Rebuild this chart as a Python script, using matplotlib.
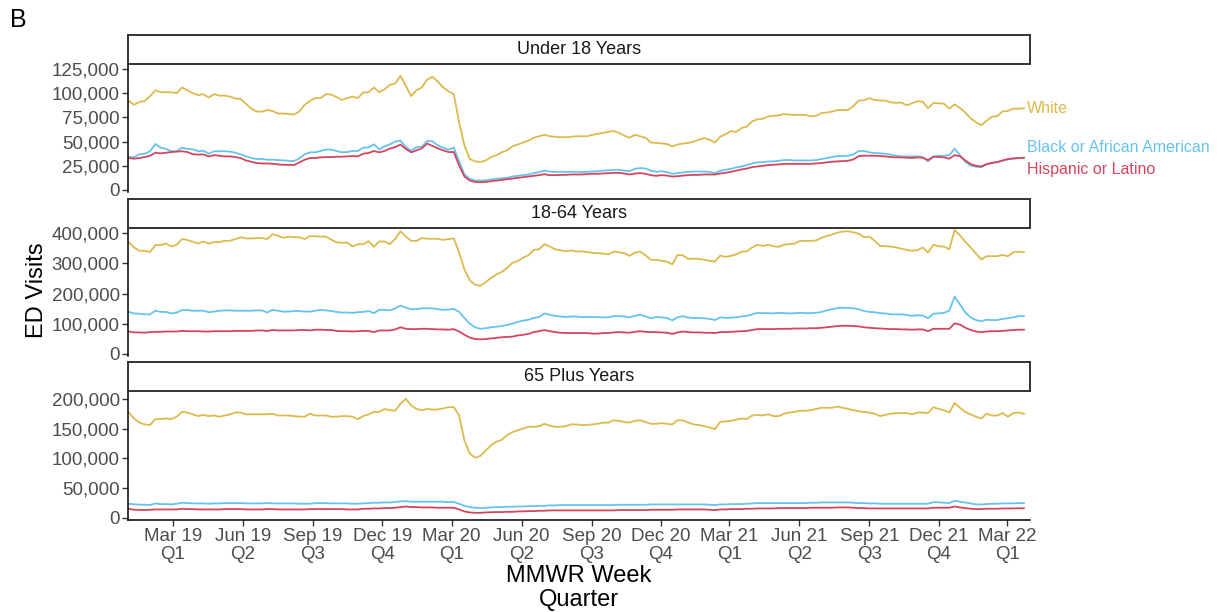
import numpy as np
import pandas as pd
import matplotlib
matplotlib.use("Agg")
import matplotlib.pyplot as plt
import matplotlib.dates as mdates
from matplotlib.ticker import FuncFormatter, FixedLocator

plt.rcParams['font.family'] = ['Liberation Sans', 'DejaVu Sans']

# weekly ED visits, in thousands
u18_white = [92, 88, 91, 92, 97, 103, 101, 101, 101, 100,
             106, 103, 100, 98, 99, 95.5, 99, 97.5, 97.5, 96.5,
             94.5, 94, 89, 84, 81, 81, 82.6, 81.6, 79, 79,
             78.5, 78, 81, 88, 92, 95, 95, 99, 98.6, 96,
             93, 95, 96.5, 95, 100.7, 101, 106, 101, 104, 108.7,
             110, 118, 107.6, 97, 103, 106, 114, 117, 112, 106,
             102, 99, 70, 46, 32, 29.5, 29, 30.5, 34, 36,
             39, 41, 45, 47, 49, 51, 54, 55.5, 57, 55.5,
             55, 54.5, 54.5, 55, 55.5, 55.5, 55.5, 57, 58, 59,
             60, 61, 59, 56, 54, 57, 55.5, 54, 49, 48.6,
             48, 47.5, 45, 47, 48, 48.6, 50, 52, 53.5, 52,
             49, 55, 57.6, 60.8, 60, 64, 65.6, 71, 73, 73.6,
             76, 76.7, 77, 78.5, 77.8, 77.4, 77.8, 77.4, 76, 76.7,
             79.5, 80, 81, 82.6, 82.6, 82.6, 86.8, 92.4, 92.7, 94.8,
             93, 92.4, 92.4, 90.6, 90, 90.3, 87.5, 89.6, 91.7, 91.3,
             84.4, 90, 89.6, 89.2, 84, 88.5, 84.7, 80, 74, 70,
             67, 71.5, 75.7, 76.4, 81.2, 81.6, 84, 84, 84.4]
u18_black = [34, 34, 36.8, 37.5, 40, 47.6, 43.75, 42.4, 40, 40,
             43.75, 42.4, 42, 40, 40.5, 37.5, 40, 40, 40, 39.6,
             38.5, 36.8, 34.7, 33, 32, 32, 31.25, 31.25, 30.9, 30.5,
             30.2, 29.9, 32.6, 36.8, 38.9, 38.9, 40.3, 41.7, 41.7, 40.3,
             38.9, 39.2, 40.3, 40.3, 43.75, 43.75, 47.2, 42, 45, 47.2,
             50, 51, 44.4, 40.3, 44.4, 44.7, 50.7, 50.3, 46, 43.75,
             41.7, 43.75, 30, 16, 11.5, 9.7, 9.7, 10, 10.8, 11.5,
             12.2, 12.5, 13.9, 14.6, 15.3, 16, 17.4, 18.4, 20, 19,
             18.75, 18.75, 18.75, 18.75, 18.75, 18.4, 18.75, 19, 19.4, 20,
             20.3, 20.8, 20.8, 20, 19.4, 21.9, 22.6, 22.2, 20, 18.75,
             19.4, 18.4, 16.7, 17.4, 18, 18.75, 19, 19, 19, 18.75,
             17.4, 19.8, 20.8, 21.9, 23.3, 24.3, 25.7, 27.4, 28.5, 28.8,
             29.5, 29.5, 30.2, 30.9, 30.9, 30.5, 30.5, 30.5, 30.5, 30.9,
             32, 33, 34, 35, 35, 35.4, 36.8, 40.3, 40.3, 38.9,
             38.2, 37.8, 37.5, 36.5, 35.4, 34.7, 34.7, 34.7, 34.7, 34,
             29.5, 34.4, 35.4, 35.4, 36, 42.7, 36, 29.2, 25.3, 24,
             23.6, 26.4, 28, 28.8, 30.2, 31.6, 32.3, 33, 33.3]
u18_hisp = [33, 32.3, 33, 34, 35.4, 38.5, 37.8, 38.5, 39.2, 39.6,
            40, 39.2, 37, 36.5, 36.8, 34.7, 36, 35.4, 34.7, 34.7,
            34, 33, 30.5, 29.2, 27.8, 27.4, 27.4, 27.1, 26.4, 26,
            26, 25.7, 28.5, 31.25, 33, 33, 33.7, 34, 34, 34.4,
            34.4, 34.7, 35, 34.7, 37.5, 38.2, 40.3, 38.9, 40.3, 42.7,
            44.4, 46.9, 42.4, 38.9, 41, 43, 48, 45.5, 43, 41,
            39.2, 39.2, 25.3, 13.9, 9.7, 8.3, 8, 8.3, 9, 9.7,
            10.4, 11.1, 11.8, 12.5, 13.2, 13.9, 14.6, 15.3, 16.3, 15.3,
            15.3, 15.6, 15.6, 16, 16, 16, 16.3, 16.7, 16.7, 17,
            17.4, 17.7, 17.7, 17, 16, 17, 17.4, 16.7, 15.3, 14.6,
            15.3, 14.9, 13.9, 14.2, 14.9, 15.3, 15.6, 15.6, 16, 16,
            16, 17, 17.7, 18.75, 20, 21.2, 22.2, 23.6, 24.3, 25,
            25.7, 26, 26.4, 27, 27, 27, 27, 27, 27, 27.4,
            27.8, 28.5, 29.2, 29.5, 29.9, 30.2, 31.6, 35, 35.4, 35.4,
            35.4, 35, 34.7, 34, 33.7, 33.7, 33.3, 33, 33.7, 33.3,
            30.9, 34.4, 34, 33.7, 32.3, 36, 35, 30.5, 26.7, 25,
            24.3, 26.7, 28, 28.8, 30.5, 31.9, 32.6, 33, 33.3]

a18_white = [370, 353, 342, 342, 338, 361, 361, 366, 356, 362,
             381, 378, 372, 366, 373, 366, 371, 371, 375, 375,
             381, 387, 383, 383, 384, 384, 381, 397, 392, 385,
             389, 387, 387, 381, 391, 390, 389, 389, 379, 370,
             369, 369, 356, 364, 364, 374, 355, 373, 373, 364,
             381, 407, 389, 375, 375, 384, 382, 382, 382, 378,
             381, 383, 336, 280, 244, 229, 226, 238, 252, 263,
             272, 285, 302, 308, 319, 327, 345, 347, 364, 356,
             347, 344, 340, 343, 340, 340, 338, 335, 334, 333,
             330, 339, 337, 334, 325, 336, 339, 327, 312, 312,
             309, 306, 297, 328, 327, 315, 316, 315, 312, 309,
             306, 326, 322, 325, 330, 339, 340, 353, 362, 358,
             362, 357, 355, 362, 364, 366, 375, 375, 375, 376,
             385, 391, 396, 402, 406, 407, 403, 399, 387, 389,
             375, 358, 357, 356, 353, 349, 345, 342, 344, 353,
             336, 362, 357, 356, 347, 411, 393, 372, 353, 333,
             313, 324, 324, 324, 328, 324, 337, 339, 337]
a18_black = [139, 134, 133, 131, 131, 143, 139, 139, 134, 137,
             145, 145, 143, 143, 143, 138, 140, 143, 144, 144,
             143, 143, 143, 143, 144, 144, 137, 146, 143, 140,
             140, 142, 142, 140, 140, 143, 146, 144, 142, 139,
             137, 137, 136, 138, 139, 142, 135, 146, 146, 144,
             151, 160, 153, 148, 148, 151, 151, 151, 148, 146,
             147, 149, 139, 119, 100, 88, 83, 85, 88, 90,
             92, 96, 100, 106, 110, 113, 119, 122, 134, 130,
             126, 124, 122, 124, 124, 122, 122, 122, 122, 121,
             121, 125, 125, 124, 121, 126, 130, 124, 118, 122,
             121, 119, 111, 121, 125, 120, 119, 119, 118, 116,
             112, 121, 119, 120, 121, 124, 126, 131, 136, 135,
             135, 134, 136, 135, 134, 135, 136, 135, 135, 136,
             139, 144, 148, 152, 153, 152, 151, 148, 142, 139,
             138, 135, 134, 131, 131, 131, 129, 126, 128, 127,
             118, 133, 134, 136, 143, 190, 164, 137, 121, 112,
             108, 113, 112, 112, 116, 118, 121, 125, 125]
a18_hisp = [74, 71, 71, 70, 72, 73, 73, 74, 74, 74,
            76, 75, 75, 75, 74, 74, 75, 75, 75, 75,
            76, 76, 76, 76, 77.5, 77.5, 76, 79, 77.5, 77.5,
            77.5, 77.5, 79, 79, 77.5, 80, 80, 79, 79, 76,
            75, 75, 74, 75, 76, 76, 72, 77.5, 77.5, 77.5,
            81, 88, 83, 82, 82, 83, 83, 82, 81, 81,
            80, 82, 74, 63, 54, 49, 48, 49, 51, 53,
            55, 56, 57, 61, 63, 66, 72, 75, 79, 75,
            72, 70, 69, 69, 69, 69, 69, 67, 67, 69,
            69, 71, 72, 71, 70, 73, 75, 73, 72, 72,
            71, 70, 66, 71, 74, 72, 71, 71, 70, 70,
            69, 72, 72, 73, 74, 75, 76, 79, 82, 82,
            82, 82, 83, 83, 83, 84, 84, 84, 85, 85,
            86.5, 88, 90, 92, 93, 93, 92, 91, 88, 86.5,
            85, 84, 83, 82, 82, 81, 81, 80, 81, 81,
            75, 83, 83, 83, 83, 101, 97, 86.5, 79, 74,
            72, 74, 75, 75, 76, 77.5, 79, 80, 80]

o65_white = [177, 167, 160, 157, 156, 166, 166, 167, 166, 170,
             178, 177, 174, 171, 173, 171, 172, 170, 172, 174,
             177, 177, 174, 174, 174, 174, 174, 175, 172, 172,
             172, 171, 170, 170, 175, 172, 172, 172, 170, 170,
             171, 171, 170, 166, 171, 174, 178, 178, 183, 181,
             180, 192, 200, 189, 183, 181, 183, 182, 182, 184,
             186, 186, 172, 130, 108, 101, 104, 113, 122, 128,
             131, 139, 144, 147, 150, 153, 153, 154, 158, 155,
             153, 153, 154, 157, 157, 156, 156, 157, 158, 160,
             160, 164, 163, 161, 160, 163, 164, 161, 158, 158,
             159, 158, 157, 164, 164, 160, 157, 156, 154, 152,
             149, 161, 162, 163, 165, 167, 166, 172, 173, 172,
             174, 171, 171, 175, 177, 178, 180, 180, 181, 183,
             185, 185, 185, 187, 185, 183, 181, 179, 178, 177,
             175, 171, 173, 175, 176, 176, 176, 174, 177, 177,
             176, 186, 183, 181, 177, 193, 185, 178, 174, 170,
             167, 175, 172, 172, 176, 170, 176, 177, 175]
o65_black = [23.6, 22.5, 22.2, 22, 21.5, 24, 23, 23, 22.5, 23.6,
             25.3, 24.7, 24.2, 24.2, 24.2, 23.6, 24.2, 24.2, 24.7, 24.7,
             24.7, 24.7, 24.2, 24.2, 24.2, 24.2, 24.7, 24.2, 24.2, 24.2,
             24.2, 24.2, 23.6, 23.6, 23.6, 24.7, 24.7, 24.7, 24.2, 24.2,
             24.2, 24.2, 23.6, 23.6, 24.2, 24.7, 25.3, 25.3, 25.8, 25.8,
             26.4, 27.5, 28, 27, 27, 27, 27, 27, 27, 27,
             26.4, 26.4, 23.6, 20, 18, 16.9, 16.3, 16.9, 17.4, 18,
             18, 18.5, 18.5, 19, 19, 19.5, 19.5, 20, 20, 20.8,
             20.8, 21.3, 21.3, 21.3, 21.3, 21.3, 21.3, 21.3, 21.3, 21.3,
             21.3, 21.3, 21.9, 21.9, 21.9, 21.9, 21.9, 21.9, 22.5, 22.5,
             22.5, 22.5, 22.5, 22.5, 22.5, 22.5, 22.5, 22.5, 22.5, 21.9,
             21.3, 22.5, 22.5, 23, 23, 23, 23.6, 24.2, 24.7, 24.7,
             24.7, 24.7, 24.7, 24.7, 24.7, 24.7, 24.7, 24.7, 25.3, 25.3,
             25.8, 25.8, 25.8, 25.8, 25.8, 25.8, 25.3, 24.7, 24.7, 24.2,
             24.2, 23.6, 23.6, 23.6, 23.6, 23.6, 23.6, 23.6, 23.6, 23.6,
             23.6, 26.4, 26, 25.3, 24.7, 28.7, 27, 25.8, 24.2, 22.5,
             22.5, 23, 23.6, 23.6, 24.2, 24.2, 24.2, 24.7, 24.7]
o65_hisp = [15.2, 13.5, 13.2, 13, 13.5, 14, 14, 14, 14, 14,
            15.2, 14.6, 14.6, 14, 14, 14, 14, 14, 14.6, 14.6,
            14.6, 14.6, 14, 14, 14, 14, 14.6, 14.6, 14, 14,
            14, 14, 14, 14, 14.6, 14.6, 14.6, 14.6, 14.6, 14.6,
            14.6, 14, 14, 14, 15.2, 15.2, 15.7, 15.7, 16.3, 16.3,
            16.9, 18, 19, 18, 18, 17.4, 17.4, 17.4, 16.9, 16.9,
            16.9, 16.9, 14, 10.7, 9, 8.4, 8.4, 9, 9.3, 9.6,
            9.6, 10, 10, 10.7, 10.7, 11.2, 11.2, 11.8, 11.8, 12.4,
            12.4, 12.4, 12.4, 12.4, 12.4, 12.4, 12.4, 12.4, 12.4, 12.4,
            12.4, 12.4, 12.9, 12.9, 12.9, 12.9, 12.9, 12.9, 13.5, 13.5,
            13.5, 13.5, 13.5, 14, 14, 14, 14, 14, 14, 13.5,
            12.9, 14, 14, 14.6, 14.6, 14.6, 15.2, 15.2, 15.7, 15.7,
            15.7, 15.7, 16.3, 16.3, 16.3, 16.3, 16.3, 16.3, 16.9, 16.9,
            16.9, 16.9, 16.9, 17.4, 17.4, 17.4, 16.9, 16.3, 16.3, 15.7,
            15.7, 15.7, 15.7, 15.7, 15.7, 15.7, 15.7, 15.7, 15.7, 15.7,
            15.7, 16.9, 16.9, 16.9, 16.9, 19, 17.4, 16.3, 15.2, 14.6,
            14.6, 15.2, 15.2, 15.2, 15.7, 15.7, 15.7, 16, 16]

weeks = pd.date_range("2019-01-02", periods=len(u18_white), freq="7D")
groups = ["Under 18 Years", "18-64 Years", "65 Plus Years"]
races = ["White", "Black or African American", "Hispanic or Latino"]
colors = ["#DCBA4E", "#66C3F0", "#D3465E"]
series = [[u18_white, u18_black, u18_hisp],
          [a18_white, a18_black, a18_hisp],
          [o65_white, o65_black, o65_hisp]]
yticks = [[0, 25000, 50000, 75000, 100000, 125000],
          [0, 100000, 200000, 300000, 400000],
          [0, 50000, 100000, 150000, 200000]]
ylims = [(-2100, 130700), (-7300, 419300), (-2900, 213200)]
xticklabels = ["Mar 19\nQ1", "Jun 19\nQ2", "Sep 19\nQ3", "Dec 19\nQ4",
               "Mar 20\nQ1", "Jun 20\nQ2", "Sep 20\nQ3", "Dec 20\nQ4",
               "Mar 21\nQ1", "Jun 21\nQ2", "Sep 21\nQ3", "Dec 21\nQ4",
               "Mar 22\nQ1"]
xtick_dates = pd.date_range("2019-03-01", "2022-03-01", freq="3MS")

W, H = 1218, 612
fig = plt.figure(figsize=(W / 100, H / 100), dpi=100)


def box(left, top, right, bottom):
    return [left / W, 1 - bottom / H, (right - left) / W, (bottom - top) / H]


grey30 = "#4D4D4D"
panel_tops = [63.5, 227.5, 391]
ph = 128.5
sh = 29
L, R = 128, 1030
xlim = (mdates.date2num(pd.Timestamp("2019-01-01")),
        mdates.date2num(pd.Timestamp("2022-03-31")))

for k in range(3):
    top = panel_tops[k]
    ax = fig.add_axes(box(L, top, R, top + ph))
    for s, c in zip(series[k], colors):
        ax.plot(weeks, np.array(s) * 1000, color=c, lw=1.3)
    ax.set_xlim(xlim)
    ax.set_ylim(ylims[k])
    ax.yaxis.set_major_locator(FixedLocator(yticks[k]))
    ax.yaxis.set_major_formatter(FuncFormatter(lambda v, p: f"{int(v):,}"))
    for sp in ["top", "right"]:
        ax.spines[sp].set_visible(False)
    ax.spines["left"].set_linewidth(1.1)
    ax.tick_params(axis="y", length=4, width=1.0, pad=2, labelsize=13.5,
                   labelcolor=grey30, color="#333333")
    ax.set_xticks(mdates.date2num(xtick_dates))
    if k < 2:
        ax.spines["bottom"].set_visible(False)
        ax.tick_params(axis="x", length=0, labelbottom=False)
    else:
        ax.spines["bottom"].set_linewidth(1.1)
        ax.set_xticklabels(xticklabels, linespacing=1.1)
        ax.tick_params(axis="x", length=4, width=1.0, pad=2, labelsize=13.5,
                       labelcolor=grey30, color="#333333")
    ax.patch.set_visible(False)

    if k == 0:
        label_y = [84000, 44400, 20700]
        for name, c, yv in zip(races, colors, label_y):
            ax.annotate(name, xy=(weeks[-1], yv), xytext=(2.5, 0),
                        textcoords="offset points", color=c, fontsize=11.5,
                        va="center", ha="left", annotation_clip=False)

    sax = fig.add_axes(box(L, top - sh, R, top))
    sax.set_xticks([])
    sax.set_yticks([])
    for sp in sax.spines.values():
        sp.set_linewidth(1.4)
        sp.set_color("#333333")
    sax.text(0.5, 0.5, groups[k], transform=sax.transAxes, ha="center",
             va="center", fontsize=13, color="#1A1A1A")

fig.text(10 / W, 1 - 20 / H, "B", fontsize=18, va="center", ha="left")
fig.text(37 / W, 1 - 290 / H, "ED Visits", fontsize=17, rotation=90,
         va="center", ha="center")
fig.text(579 / W, 1 - 588 / H, "MMWR Week\nQuarter", fontsize=17,
         va="center", ha="center", linespacing=1.1)

fig.savefig("out.png", dpi=100)
